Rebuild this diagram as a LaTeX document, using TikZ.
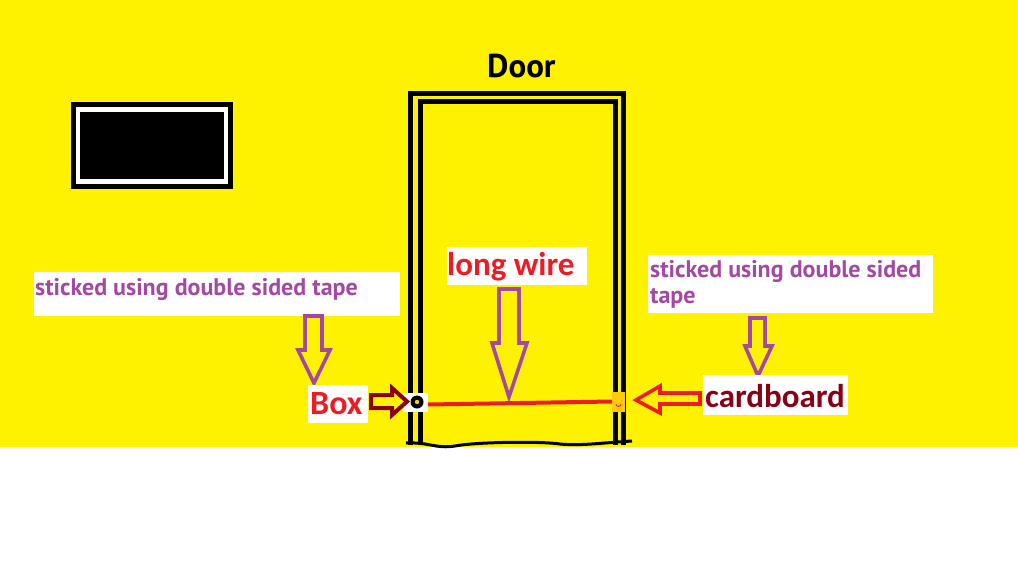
\documentclass[tikz,border=0pt]{standalone}
\usepackage{fontspec}
\setmainfont{Carlito}
\newfontfamily\ptsans{PT Sans}
\definecolor{wallyellow}{HTML}{FFF200}
\definecolor{tapepurple}{HTML}{A349A4}
\definecolor{wirered}{HTML}{ED1C24}
\definecolor{boxdarkred}{HTML}{880015}
\definecolor{cardorange}{HTML}{FFC90E}
\tikzset{
  framestroke/.style={line width=5pt, black},
  labelbg/.style={fill=white, draw=none},
  purplearrow/.style={draw=tapepurple, line width=3.6pt, line join=miter},
  redarrow/.style={draw=wirered, line width=3.6pt, line join=miter},
  darkarrow/.style={draw=boxdarkred, line width=4pt, line join=miter},
  purpletext/.style={inner sep=0pt, anchor=base west, text=tapepurple, font=\ptsans\bfseries\fontsize{24}{27}\selectfont},
  redtext/.style={inner sep=0pt, anchor=base west, font=\bfseries\fontsize{33}{36}\selectfont},
}
\begin{document}
\begin{tikzpicture}[x=1pt,y=-1pt]
\useasboundingbox (0,0) rectangle (1018,563);
% wall and floor
\fill[white] (0,0) rectangle (1018,563);
\fill[wallyellow] (0,0) rectangle (1018,447);
% window
\fill[black] (71,102) rectangle (233,189);
\fill[white] (76,107) rectangle (228,184);
\fill[black] (80,112) rectangle (224,179);
% door frame
\draw[framestroke] (410.5,445) -- (410.5,93.5) -- (623,93.5) -- (623,445);
\draw[framestroke] (420,445) -- (420,101.5) -- (615,101.5) -- (615,445);
\draw[black, line width=3pt] (406,443) .. controls (430,442) and (435,449) .. (455,446)
  .. controls (475,442) and (540,441) .. (560,444) .. controls (580,446) and (600,443) .. (632,441);
\node[inner sep=0pt, anchor=base west, font=\ptsans\bfseries\fontsize{33}{36}\selectfont] (doorlabel) at (487,77) {Door};
% wire
\coordinate (wireA) at (428,404.5);
\coordinate (wireB) at (612,401.5);
\draw[wirered, line width=4pt] (wireA) -- (wireB);
% box
\node[fill=white, inner sep=0pt, minimum width=25pt, minimum height=19pt] (box) at (415,402.5) {};
\fill[black] (417,402) circle (6.5);
\fill[cardorange] (417,402) circle (2.2);
% cardboard
\node[fill=cardorange, inner sep=0pt, minimum width=13pt, minimum height=20pt] (card) at (618.5,402) {};
\draw[wirered, line width=0.8pt] (616,404) arc (180:0:2.5);
% left label
\fill[labelbg] (34,272) rectangle (400,316);
\node[purpletext] (leftlabel) at (35,295) {sticked using double sided tape};
\draw[purplearrow] (305,316) -- (322,316) -- (322,350) -- (330,350) -- (314,383) -- (298,350) -- (305,350) -- cycle;
% long wire label
\fill[labelbg] (447,247) rectangle (587,285);
\node[redtext, text=wirered] (wirelabel) at (447,275) {long wire};
\draw[purplearrow] (499,289) -- (519,289) -- (519,343) -- (527,343) -- (509,397) -- (492,343) -- (499,343) -- cycle;
% right label
\fill[labelbg] (648,255) rectangle (933,313);
\node[purpletext] (rightlabelA) at (650,277) {sticked using double sided};
\node[purpletext] (rightlabelB) at (650,303) {tape};
\draw[purplearrow] (750,318) -- (765,318) -- (765,346) -- (772,346) -- (758,376) -- (745,346) -- (750,346) -- cycle;
% Box label
\fill[labelbg] (308,385) rectangle (368,423);
\node[redtext, text=wirered, font=\bfseries\fontsize{34}{37}\selectfont] (boxlabel) at (310,414) {Box};
\draw[darkarrow] (371,395) -- (392,395) -- (392,388) -- (407,401.5) -- (392,415) -- (392,408) -- (371,408) -- cycle;
% cardboard label
\fill[labelbg] (703,375) rectangle (848,415);
\node[redtext, text=boxdarkred] (cardlabel) at (705,407) {cardboard};
\draw[redarrow] (700,393) -- (660,393) -- (660,386) -- (636,400) -- (660,413) -- (660,404) -- (700,404) -- cycle;
\end{tikzpicture}
\end{document}
